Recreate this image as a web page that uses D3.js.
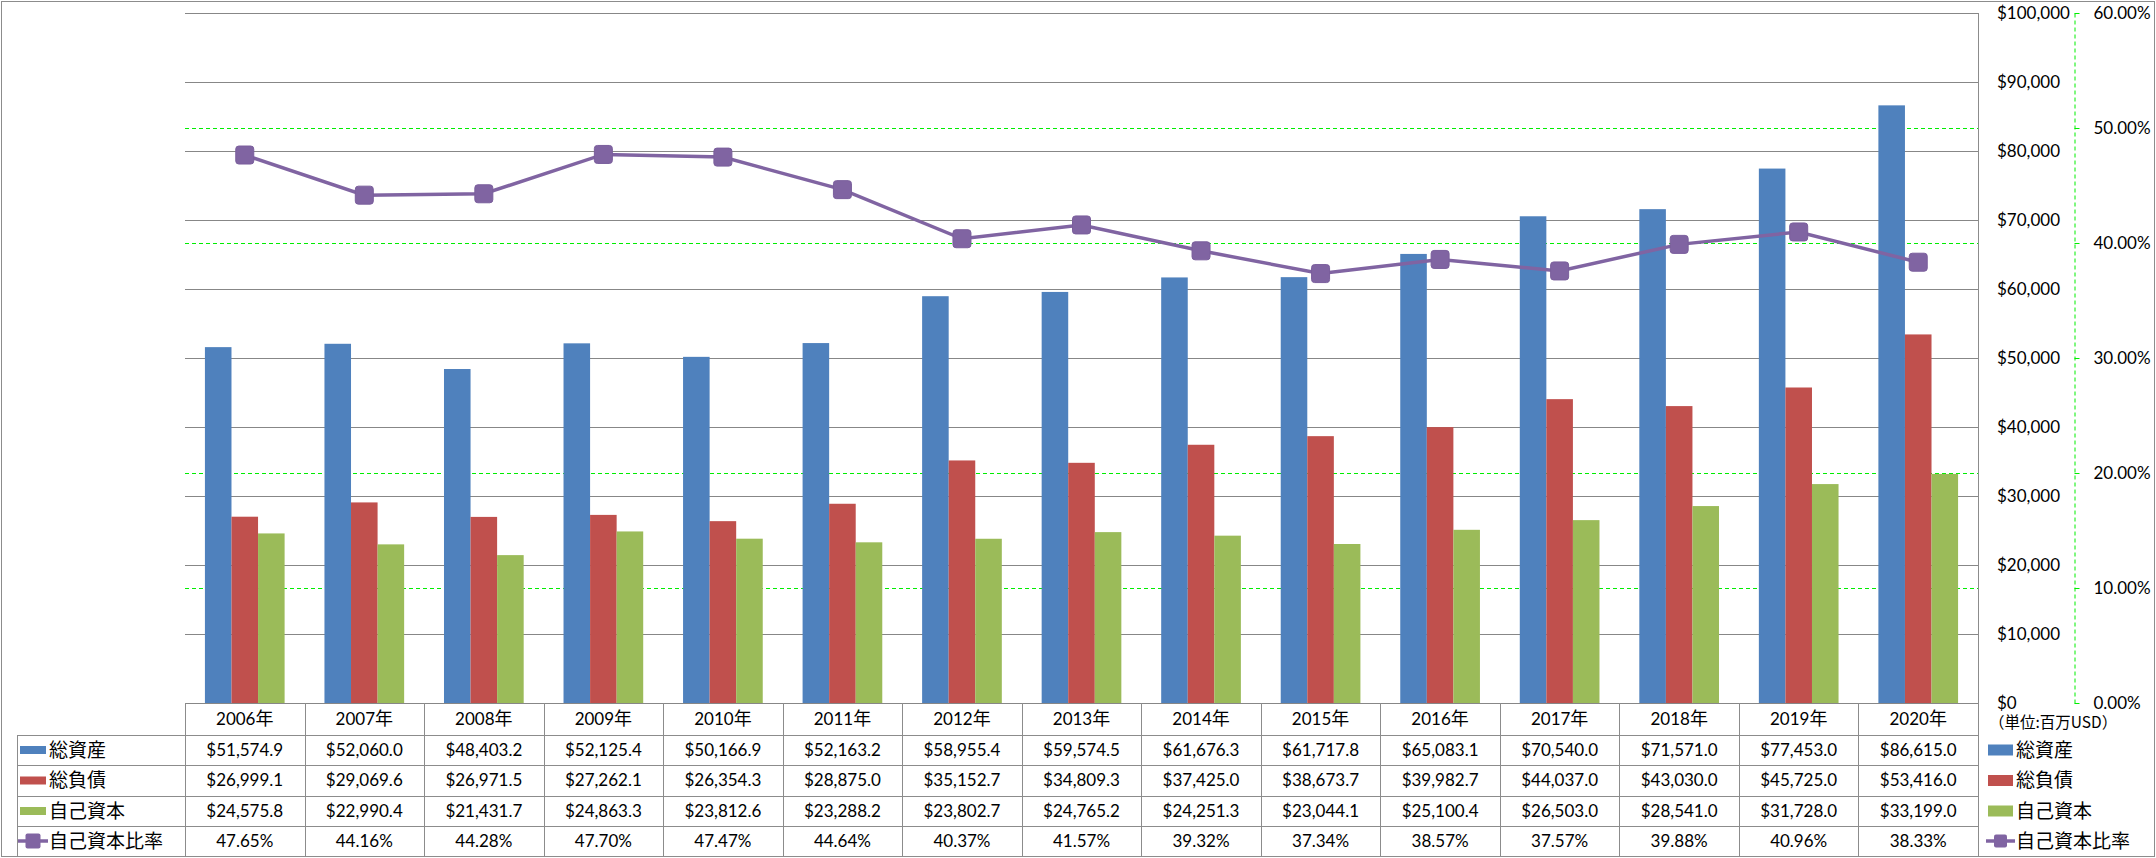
<!DOCTYPE html>
<html lang="ja">
<head>
    <meta charset="UTF-8">
    <title>総資産・総負債・自己資本</title>
    <script src="https://d3js.org/d3.v7.min.js"></script>
    <style>
        body { margin: 0; background: #fff; }
        svg { display: block; font-family: Lato, "Noto Sans CJK JP", sans-serif; }
        .grid line { stroke: #878787; stroke-width: 1px; }
        .grid2 line { stroke: #00ee00; stroke-width: 1px; stroke-dasharray: 4,3; }
        .cell { stroke: #8c8c8c; stroke-width: 1px; }
        .num { font-size: 17px; fill: #000; }
        .jp { font-size: 19px; fill: #000; font-family: "Noto Sans CJK JP", sans-serif; }
    </style>
</head>
<body>
<div id="chart"></div>
<script>
    // Data (百万USD)
    const years = ["2006", "2007", "2008", "2009", "2010", "2011", "2012", "2013", "2014", "2015", "2016", "2017", "2018", "2019", "2020"];
    const totalAssets = [51574.9, 52060.0, 48403.2, 52125.4, 50166.9, 52163.2, 58955.4, 59574.5, 61676.3, 61717.8, 65083.1, 70540.0, 71571.0, 77453.0, 86615.0];
    const totalLiabilities = [26999.1, 29069.6, 26971.5, 27262.1, 26354.3, 28875.0, 35152.7, 34809.3, 37425.0, 38673.7, 39982.7, 44037.0, 43030.0, 45725.0, 53416.0];
    const equity = [24575.8, 22990.4, 21431.7, 24863.3, 23812.6, 23288.2, 23802.7, 24765.2, 24251.3, 23044.1, 25100.4, 26503.0, 28541.0, 31728.0, 33199.0];
    const equityRatio = [47.65, 44.16, 44.28, 47.70, 47.47, 44.64, 40.37, 41.57, 39.32, 37.34, 38.57, 37.57, 39.88, 40.96, 38.33];
    const barSeries = ["総資産", "総負債", "自己資本"];
    const lineSeries = "自己資本比率";
    const unitLabel = "（単位:百万USD）";
    const dollarTicks = [0, 10000, 20000, 30000, 40000, 50000, 60000, 70000, 80000, 90000, 100000];
    const pctTicks = [0, 0.1, 0.2, 0.3, 0.4, 0.5, 0.6];

    const barValues = [totalAssets, totalLiabilities, equity];
    const colors = ["#4f81bd", "#c0504d", "#9bbb59"];
    const purple = "#8064a2";

    const width = 2156, height = 858;
    const plot = { left: 185, right: 1978, top: 13, bottom: 703 };
    const rowY = [703, 735, 765, 796, 826, 856];   // table row boundaries

    const svg = d3.select("#chart").append("svg")
        .attr("width", width)
        .attr("height", height);

    // outer border
    svg.append("rect")
        .attr("x", 1.5).attr("y", 1.5)
        .attr("width", width - 3).attr("height", 855)
        .attr("fill", "none").attr("stroke", "#8c8c8c");

    // Scales
    const x = d3.scaleBand().domain(years).range([plot.left, plot.right]);
    const xs = d3.scaleBand().domain(barSeries).range([0, x.bandwidth()]).paddingOuter(0.75);
    const y = d3.scaleLinear().domain([0, 100000]).range([plot.bottom, plot.top]);
    const y2 = d3.scaleLinear().domain([0, 0.6]).range([plot.bottom, plot.top]);

    // secondary gridlines (green dashed)
    svg.append("g").attr("class", "grid2")
        .selectAll("line").data(pctTicks.filter(t => t > 0 && t < 0.6)).enter().append("line")
        .attr("x1", plot.left).attr("x2", plot.right)
        .attr("y1", d => Math.round(y2(d)) + 0.5).attr("y2", d => Math.round(y2(d)) + 0.5);

    // primary gridlines
    svg.append("g").attr("class", "grid")
        .selectAll("line").data(dollarTicks).enter().append("line")
        .attr("x1", plot.left).attr("x2", plot.right)
        .attr("y1", d => Math.round(y(d)) + 0.5).attr("y2", d => Math.round(y(d)) + 0.5);

    // Bars
    barSeries.forEach((s, i) => {
        svg.append("g")
            .selectAll("rect").data(years).enter().append("rect")
            .attr("x", (d, j) => x(d) + xs(s))
            .attr("width", xs.bandwidth())
            .attr("y", (d, j) => y(barValues[i][j]))
            .attr("height", (d, j) => plot.bottom - y(barValues[i][j]))
            .attr("fill", colors[i]);
    });

    // Ratio line
    const line = d3.line()
        .x((d, j) => x(years[j]) + x.bandwidth() / 2)
        .y(d => y2(d / 100));
    svg.append("path")
        .datum(equityRatio)
        .attr("d", line)
        .attr("fill", "none")
        .attr("stroke", purple)
        .attr("stroke-width", 3.5);
    svg.append("g")
        .selectAll("rect").data(equityRatio).enter().append("rect")
        .attr("x", (d, j) => x(years[j]) + x.bandwidth() / 2 - 9)
        .attr("y", d => y2(d / 100) - 9)
        .attr("width", 18).attr("height", 18)
        .attr("rx", 3)
        .attr("fill", purple)
        .attr("stroke", "#7a5e9c");

    // right vertical border of plot + table
    svg.append("line").attr("class", "cell")
        .attr("x1", plot.right + 0.5).attr("x2", plot.right + 0.5)
        .attr("y1", plot.top).attr("y2", 856);

    // Dollar axis labels (placed right of the plot)
    const dollarAxis = d3.axisRight(y)
        .tickValues(dollarTicks)
        .tickFormat(d3.format("$,"))
        .tickSize(0)
        .tickPadding(0);
    svg.append("g")
        .attr("transform", "translate(1997,0)")
        .call(dollarAxis)
        .call(g => g.select(".domain").remove())
        .call(g => g.selectAll("text").attr("fill", "#000").style("font-size", "17px").style("font-family", "Lato"));

    // Percent axis (green dashed)
    const pctAxis = d3.axisRight(y2)
        .tickValues(pctTicks)
        .tickFormat(d3.format(".2%"))
        .tickSizeInner(5)
        .tickSizeOuter(0)
        .tickPadding(14);
    svg.append("g")
        .attr("transform", "translate(2074.5,0)")
        .call(pctAxis)
        .call(g => g.select(".domain").attr("stroke", "#00ee00").attr("stroke-dasharray", "4,3"))
        .call(g => g.selectAll(".tick line").attr("stroke", "#00ee00"))
        .call(g => g.selectAll("text").attr("fill", "#000").style("font-size", "17px").style("font-family", "Lato"));

    // unit label
    svg.append("text")
        .attr("x", 1989).attr("y", 723)
        .attr("dy", "0.35em")
        .style("font-size", "15.5px")
        .style("font-family", "'Noto Sans CJK JP'")
        .text(unitLabel);

    // ---- Data table ----
    const table = svg.append("g");

    // horizontal lines
    table.selectAll("line.h").data(rowY.slice(1, 5)).enter().append("line")
        .attr("class", "cell")
        .attr("x1", 17).attr("x2", plot.right)
        .attr("y1", d => d + 0.5).attr("y2", d => d + 0.5);

    // vertical lines
    const colEdges = years.map(d => x(d));
    table.selectAll("line.v").data(colEdges).enter().append("line")
        .attr("class", "cell")
        .attr("x1", d => Math.round(d) + 0.5).attr("x2", d => Math.round(d) + 0.5)
        .attr("y1", rowY[0]).attr("y2", 856);
    table.append("line").attr("class", "cell")
        .attr("x1", 17.5).attr("x2", 17.5)
        .attr("y1", rowY[1]).attr("y2", 856);

    // header years
    const header = table.selectAll("text.yr").data(years).enter().append("text")
        .attr("class", "num")
        .attr("x", d => x(d) + x.bandwidth() / 2)
        .attr("y", (rowY[0] + rowY[1]) / 2)
        .attr("dy", "0.35em")
        .attr("text-anchor", "middle");
    header.append("tspan").text(d => d);
    header.append("tspan").style("font-size", "18px").style("font-family", "'Noto Sans CJK JP'").text("年");

    // value rows
    const fmtMoney = d3.format("$,.1f");
    const fmtPct = d3.format(".2%");
    const rows = [
        ...barValues.map(vals => vals.map(fmtMoney)),
        equityRatio.map(v => fmtPct(v / 100))
    ];
    rows.forEach((vals, r) => {
        const cy = (rowY[r + 1] + rowY[r + 2]) / 2;
        table.selectAll(null).data(vals).enter().append("text")
            .attr("class", "num")
            .attr("x", (d, j) => x(years[j]) + x.bandwidth() / 2)
            .attr("y", cy)
            .attr("dy", "0.35em")
            .attr("text-anchor", "middle")
            .text(d => d);
    });

    // legend keys (table left and right legend)
    const names = [...barSeries, lineSeries];
    function drawKeys(x0, swW, swH, textX, mk) {
        names.forEach((name, r) => {
            const cy = (rowY[r + 1] + rowY[r + 2]) / 2;
            if (r < 3) {
                svg.append("rect")
                    .attr("x", x0).attr("y", cy - swH / 2)
                    .attr("width", swW).attr("height", swH)
                    .attr("fill", colors[r]);
            } else {
                svg.append("line")
                    .attr("x1", x0 - 2).attr("x2", x0 + swW + 2)
                    .attr("y1", cy).attr("y2", cy)
                    .attr("stroke", purple).attr("stroke-width", 3.5);
                svg.append("rect")
                    .attr("x", x0 + swW / 2 - mk / 2).attr("y", cy - mk / 2)
                    .attr("width", mk).attr("height", mk)
                    .attr("rx", 2)
                    .attr("fill", purple);
            }
            svg.append("text")
                .attr("class", "jp")
                .attr("x", textX).attr("y", cy)
                .attr("dy", "0.36em")
                .text(name);
        });
    }
    drawKeys(20, 26, 8, 49, 15);
    drawKeys(1988, 25, 11, 2016, 13);
</script>
</body>
</html>
